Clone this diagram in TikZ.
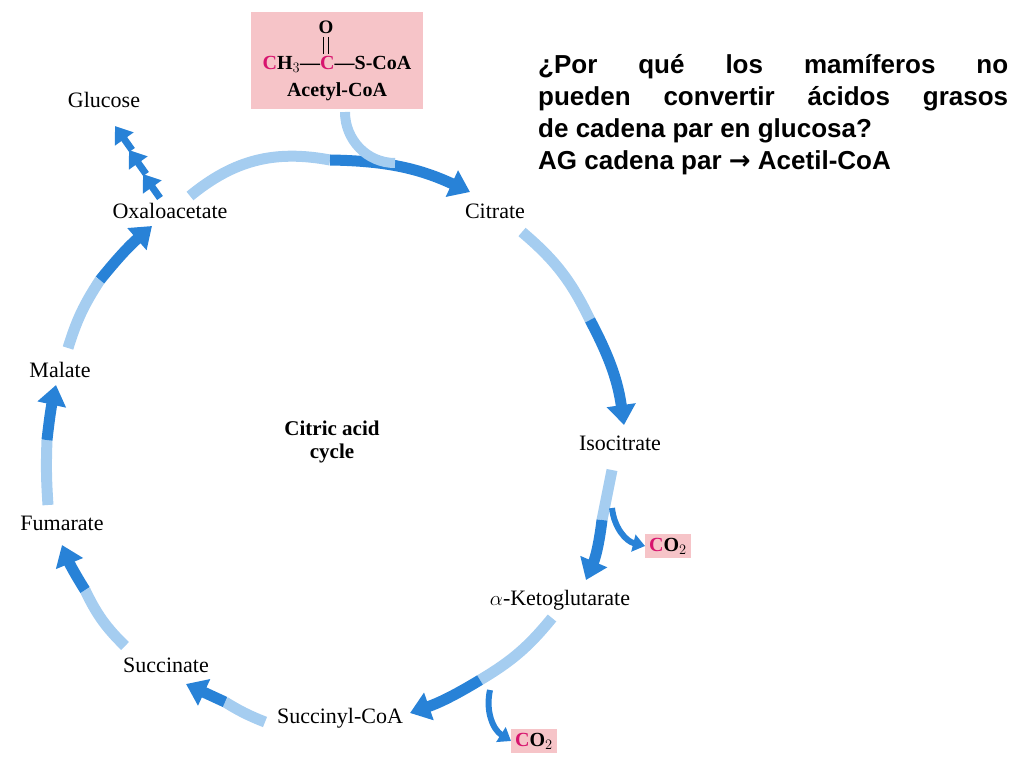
\documentclass[tikz,border=0pt]{standalone}
\usepackage{fontspec}
\setmainfont{Liberation Serif}
\newfontfamily\arialf{Liberation Sans}
\newfontfamily\dejav{DejaVu Sans}
\usetikzlibrary{arrows.meta}
\definecolor{cyc}{RGB}{40,130,215}
\definecolor{cycl}{RGB}{165,205,240}
\definecolor{pinkbox}{RGB}{246,196,200}
\definecolor{mag}{RGB}{215,20,110}
\tikzset{
  lbl/.style={font=\fontsize{22}{24}\selectfont, inner sep=1pt},
  cyc/.style={draw=cyc, line width=11pt, -{Triangle[length=20pt,width=28pt]}},
  tail/.style={draw=cycl, line width=11pt},
  co2/.style={fill=pinkbox, font=\fontsize{20}{22}\selectfont\bfseries, inner sep=4pt},
}
\begin{document}
\begin{tikzpicture}[x=1pt,y=-1pt]
\useasboundingbox (0,0) rectangle (1024,768);
\node[fill=pinkbox, minimum width=172, minimum height=97, anchor=north west] (acbox) at (251,12) {};
\node[font=\fontsize{20}{22}\selectfont\bfseries] (acf) at (337,64) {\textcolor{mag}{C}H$_3$---\textcolor{mag}{C}---S-CoA};
\node[font=\fontsize{19}{21}\selectfont\bfseries] (acO) at (326,27) {O};
\draw[line width=1pt] (323,37) -- (323,54) (328,37) -- (328,54);
\node[font=\fontsize{20}{22}\selectfont\bfseries] (acn) at (337,92) {Acetyl-CoA};
\node[lbl] (glu) at (104,100) {Glucose};
\node[lbl] (oxa) at (170,211) {Oxaloacetate};
\node[lbl] (cit) at (495,211) {Citrate};
\node[lbl] (iso) at (620,443) {Isocitrate};
\node[lbl] (akg) at (560,600) {$\alpha$-Ketoglutarate};
\node[lbl] (suc) at (340,718) {Succinyl-CoA};
\node[lbl] (scn) at (166,665) {Succinate};
\node[lbl] (fum) at (62,523) {Fumarate};
\node[lbl] (mal) at (60,370) {Malate};
\node[font=\fontsize{21}{23}\selectfont\bfseries, align=center] (cac) at (332,442) {Citric acid\\cycle};
\node[co2] (co2a) at (668,546) {\textcolor{mag}{C}O$_2$};
\node[co2] (co2b) at (534,741) {\textcolor{mag}{C}O$_2$};
\node[font=\arialf\fontsize{26}{32}\selectfont\bfseries, align=justify, text width=470, anchor=north west, inner sep=0] (q) at (538,54)
{¿Por qué los mamíferos no\linebreak pueden convertir ácidos grasos\linebreak de cadena par en glucosa?\\AG cadena par {\dejav\bfseries →} Acetil-CoA};
% cycle arrows
\draw[tail] (190,196) to[bend left=25] (330,160);
\draw[cyc] (330,160) to[bend left=12] (470,192);
\draw[draw=cycl, line width=10pt] (345,112) to[out=-90,in=180] (395,163);
\draw[tail] (522,232) to[bend left=12] (590,320);
\draw[cyc] (590,320) to[bend left=10] (624,425);
\draw[tail] (612,470) -- (602,520);
\draw[cyc] (602,520) to[bend left=8] (586,580);
\draw[draw=cyc, line width=6pt, -{Triangle[length=12pt,width=17pt]}] (612,508) to[bend right=35] (co2a.west);
\draw[tail] (552,618) to[bend left=10] (480,680);
\draw[cyc] (480,680) to[bend left=6] (410,713);
\draw[draw=cyc, line width=6pt, -{Triangle[length=12pt,width=17pt]}] (490,690) to[bend right=35] (co2b.west);
\draw[tail] (265,722) to[bend left=5] (225,702);
\draw[cyc] (225,702) -- (186,684);
\draw[tail] (125,646) to[bend left=10] (85,590);
\draw[cyc] (85,590) to[bend left=5] (62,545);
\draw[tail] (48,505) to[bend left=3] (47,440);
\draw[cyc] (47,440) to[bend left=3] (56,385);
\draw[tail] (68,348) to[bend left=8] (100,280);
\draw[cyc] (100,280) to[bend left=5] (152,226);
% glucose chevrons
\foreach \p in {0,1,2} {
  \draw[draw=cyc, line width=7pt, -{Triangle[length=16pt,width=22pt]}] ({160-\p*14},{198-\p*24}) -- ({143-\p*14},{174-\p*24});
}
\end{tikzpicture}
\end{document}
